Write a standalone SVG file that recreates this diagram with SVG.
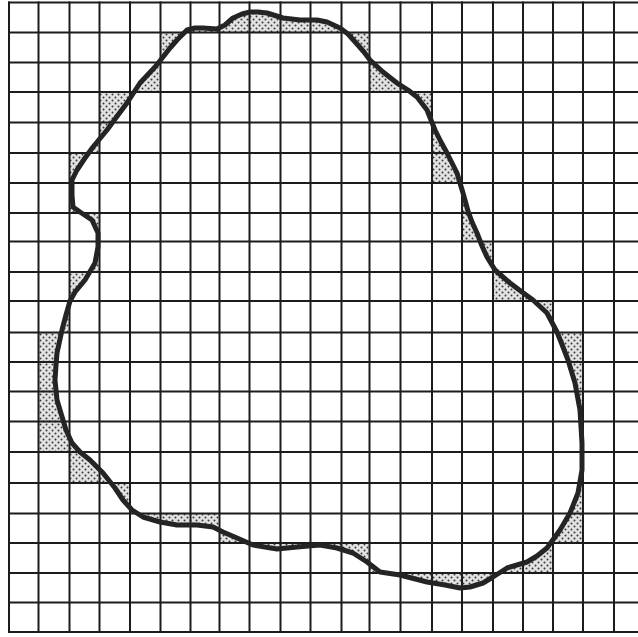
<svg xmlns="http://www.w3.org/2000/svg" width="638" height="637" viewBox="0 0 638 637">
<style>
.grid{stroke:#1c1c1c;stroke-width:2;fill:none;stroke-linecap:square}
.shade{fill:url(#dots);fill-rule:evenodd;stroke:none}
.outline{fill:none;stroke:#242424;stroke-width:5;stroke-linejoin:round;stroke-linecap:round}
</style>
<defs>
<pattern id="dots" width="6" height="6" patternUnits="userSpaceOnUse">
<rect width="6" height="6" fill="#e2e2e2"/>
<circle cx="1.5" cy="1.5" r="1" fill="#3a3a3a"/>
<circle cx="4.5" cy="4.5" r="1" fill="#3a3a3a"/>
</pattern>
</defs>
<rect width="638" height="637" fill="#ffffff"/>
<g id="shading">
<path class="shade" d="M72,180 L77,170 L85,158 L93,147 L107,130 L118,115 L127,103 L140,83 L155,67 L163,57 L170,48 L177,40 L187,30 L195,28 L203,28 L217,29 L225,25 L233,18 L242,14 L250,12 L258,12 L267,13 L283,18 L300,20 L317,20 L327,22 L340,28 L348,34 L357,44 L364,52 L370,60 L383,72 L397,83 L408,90 L417,97 L427,110 L435,130 L441,142 L447,153 L457,173 L463,193 L468,211 L472,222 L477,233 L482,246 L487,257 L495,270 L510,283 L522,292 L533,300 L547,313 L557,332 L563,347 L568,360 L575,383 L580,410 L582,443 L582,470 L578,493 L570,513 L560,530 L547,548 L537,556 L527,562 L507,568 L493,577 L483,583 L470,587 L460,588 L445,585 L427,582 L400,575 L380,572 L367,562 L353,553 L337,548 L320,545 L297,547 L277,549 L253,545 L237,538 L223,532 L213,527 L197,525 L177,525 L160,522 L143,517 L132,510 L123,500 L115,488 L103,473 L90,460 L80,452 L72,443 L66,430 L63,420 L57,400 L55,380 L56,365 L57,353 L62,330 L66,315 L70,301 L75,292 L85,280 L95,263 L98,247 L98,233 L92,220 L80,212 L73,207 L72,195 Z M160.5,32.5 L369.5,32.5 L369.5,92 L432,92 L432,183 L462,183 L462,241.5 L493,241.5 L493,301 L553,301 L553,332.5 L583,332.5 L583,543 L553,543 L553,573 L369.5,573 L369.5,543 L219.5,543 L219.5,513.5 L130,513.5 L130,483 L69.5,483 L69.5,452 L38.5,452 L38.5,332.5 L69.5,332.5 L69.5,272 L99.5,272 L99.5,213 L69.5,213 L69.5,153 L99.5,153 L99.5,92 L160.5,92 Z"/>
</g>
<g id="grid">
<path class="grid" d="M9,2.5V632 M38.5,2.5V632 M69.5,2.5V632 M99.5,2.5V632 M130,2.5V632 M160.5,2.5V632 M190.5,2.5V632 M219.5,2.5V632 M249.5,2.5V632 M280.5,2.5V632 M310.5,2.5V632 M341.5,2.5V632 M369.5,2.5V632 M400.5,2.5V632 M432,2.5V632 M462,2.5V632 M493,2.5V632 M523,2.5V632 M553,2.5V632 M583,2.5V632 M614,2.5V632"/>
<path class="grid" d="M9,2.5H638 M9,32.5H638 M9,62.5H638 M9,92H638 M9,122.5H638 M9,153H638 M9,183H638 M9,213H638 M9,241.5H638 M9,272H638 M9,301H638 M9,332.5H638 M9,362H638 M9,391.5H638 M9,421.5H638 M9,452H638 M9,483H638 M9,513.5H638 M9,543H638 M9,573H638 M9,602.5H638 M9,632H638"/>
</g>
<g id="outline">
<path class="outline" d="M72,180 L77,170 L85,158 L93,147 L107,130 L118,115 L127,103 L140,83 L155,67 L163,57 L170,48 L177,40 L187,30 L195,28 L203,28 L217,29 L225,25 L233,18 L242,14 L250,12 L258,12 L267,13 L283,18 L300,20 L317,20 L327,22 L340,28 L348,34 L357,44 L364,52 L370,60 L383,72 L397,83 L408,90 L417,97 L427,110 L435,130 L441,142 L447,153 L457,173 L463,193 L468,211 L472,222 L477,233 L482,246 L487,257 L495,270 L510,283 L522,292 L533,300 L547,313 L557,332 L563,347 L568,360 L575,383 L580,410 L582,443 L582,470 L578,493 L570,513 L560,530 L547,548 L537,556 L527,562 L507,568 L493,577 L483,583 L470,587 L460,588 L445,585 L427,582 L400,575 L380,572 L367,562 L353,553 L337,548 L320,545 L297,547 L277,549 L253,545 L237,538 L223,532 L213,527 L197,525 L177,525 L160,522 L143,517 L132,510 L123,500 L115,488 L103,473 L90,460 L80,452 L72,443 L66,430 L63,420 L57,400 L55,380 L56,365 L57,353 L62,330 L66,315 L70,301 L75,292 L85,280 L95,263 L98,247 L98,233 L92,220 L80,212 L73,207 L72,195 Z"/>
</g>
</svg>
